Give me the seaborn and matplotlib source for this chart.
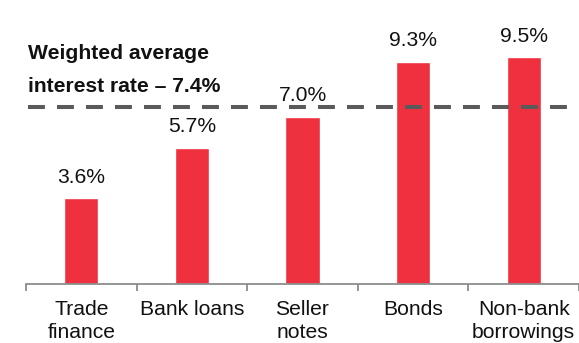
import matplotlib
matplotlib.use("Agg")
import matplotlib.pyplot as plt
import seaborn as sns
import pandas as pd

categories = ["Trade\nfinance", "Bank loans", "Seller\nnotes", "Bonds", "Non-bank\nborrowings"]
rates = [3.6, 5.7, 7.0, 9.3, 9.5]
value_labels = ["3.6%", "5.7%", "7.0%", "9.3%", "9.5%"]
weighted_avg = 7.4
avg_label = ["Weighted average", "interest rate \u2013 7.4%"]

BAR_RED = "#EE303F"
DASH_GREY = "#5A5A5A"
AXIS_GREY = "#8C8C8C"

sns.set_theme(style="white")
plt.rcParams["font.family"] = ["Liberation Sans", "DejaVu Sans"]

df = pd.DataFrame({"category": categories, "rate": rates})

W, H = 579, 343
fig = plt.figure(figsize=(W / 100, H / 100), dpi=100)
ax = fig.add_axes([26 / W, 59 / H, 1 - 26 / W, 284 / H])

sns.barplot(data=df, x="category", y="rate", color=BAR_RED, saturation=1,
            width=0.31, ax=ax, zorder=2)

ax.set_xlim(-0.5, 4.48)
ax.set_ylim(0, 11.88)

# value labels above each bar
for i, (v, lab) in enumerate(zip(rates, value_labels)):
    ax.annotate(lab, xy=(i, v), xytext=(0, 11), textcoords="offset points",
                ha="center", va="baseline", fontsize=15.2, color="#111111")

# weighted-average reference line
ax.plot([-0.482, 4.6], [weighted_avg, weighted_avg], color=DASH_GREY, lw=2.9,
        dashes=(4.2, 3.0), zorder=3, clip_on=False, solid_capstyle="butt",
        dash_capstyle="butt")

fig.text(28 / W, 1 - 59 / H, avg_label[0], fontsize=15.2, fontweight="bold",
         ha="left", va="baseline", color="#111111")
fig.text(28 / W, 1 - 92 / H, avg_label[1], fontsize=15.2, fontweight="bold",
         ha="left", va="baseline", color="#111111")

# axes styling: only a grey baseline with boundary ticks
for side in ["top", "right", "left"]:
    ax.spines[side].set_visible(False)
ax.spines["bottom"].set_color(AXIS_GREY)
ax.spines["bottom"].set_linewidth(1.3)
ax.set_yticks([])
ax.set_xlabel("")
ax.set_ylabel("")
ax.set_xticks(range(len(categories)))
ax.set_xticklabels(categories)
ax.tick_params(axis="x", which="major", length=0, pad=11.5, labelsize=15.2,
               labelcolor="#111111")
ax.set_xticks([i - 0.5 for i in range(len(categories) + 1)], minor=True)
ax.tick_params(axis="x", which="minor", length=5.2, width=1.3, color=AXIS_GREY,
               bottom=True)
for t in ax.get_xticklabels():
    t.set_linespacing(1.28)

fig.savefig("out.png", dpi=100)
